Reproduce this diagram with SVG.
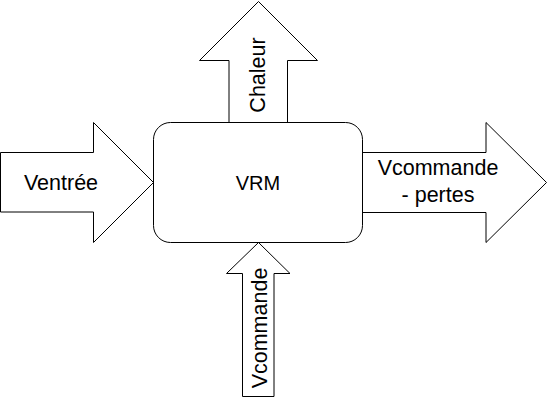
<svg xmlns="http://www.w3.org/2000/svg" width="548" height="405" viewBox="0 0 548 405">
<style>
.shape{fill:#fff;stroke:#000;stroke-width:1}
.lbl{font-family:"Liberation Sans",Arial,sans-serif;font-size:21.5px;fill:#000;text-anchor:middle}
</style>
<rect width="548" height="405" fill="#fff"/>
<g id="connectors">
<g id="arrow-chaleur">
<path class="shape" d="M229,122.5 V60.5 H199.5 L258.5,1.5 L317.5,60.5 H287.5 V122.5"/>
<text class="lbl" transform="translate(265,75) rotate(-90)">Chaleur</text>
</g>
<g id="arrow-ventree">
<path class="shape" d="M0.5,152.5 H93.5 V122.5 L153.5,182.5 L93.5,242.5 V212 H0.5 Z"/>
<text class="lbl" x="61" y="190">Ventrée</text>
</g>
<g id="arrow-sortie">
<path class="shape" d="M362,152.5 H486 V122.5 L546.5,182.5 L486,242.5 V212.5 H362 Z"/>
<text class="lbl" x="438" y="174.5">Vcommande</text>
<text class="lbl" x="438" y="202">- pertes</text>
</g>
<g id="arrow-vcommande">
<path class="shape" d="M242.5,396.5 V273.5 H226.5 L258.5,242.5 L290,273.5 H274 V396.5 Z"/>
<text class="lbl" transform="translate(266.5,328) rotate(-90)">Vcommande</text>
</g>
</g>
<g id="node-vrm">
<rect class="shape" x="153.5" y="122.5" width="209" height="120" rx="17" ry="17"/>
<text class="lbl" x="258" y="190" style="font-size:20px">VRM</text>
</g>
</svg>
